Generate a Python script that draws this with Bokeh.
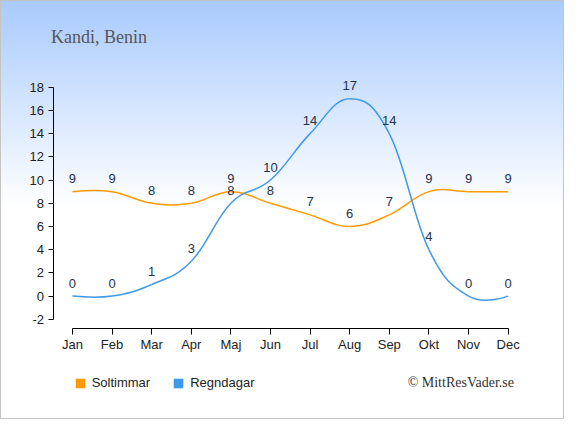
from bokeh.plotting import figure
from bokeh.models import (LinearAxis, FixedTicker, Label, Legend, LegendItem,
                          ColumnDataSource)
from bokeh.embed import file_html
from bokeh.resources import INLINE
from bokeh.core.properties import value

# ---- data ----
months = ["Jan", "Feb", "Mar", "Apr", "Maj", "Jun", "Jul", "Aug", "Sep", "Okt", "Nov", "Dec"]
soltimmar = [9, 9, 8, 8, 9, 8, 7, 6, 7, 9, 9, 9]
regndagar = [0, 0, 1, 3, 8, 10, 14, 17, 14, 4, 0, 0]
y_ticks = [-2, 0, 2, 4, 6, 8, 10, 12, 14, 16, 18]
title_text = "Kandi, Benin"
credit_text = "\u00a9 MittResVader.se"
series_names = ["Soltimmar", "Regndagar"]
series_colors = ["#ff9a00", "#3f99ea"]

# ---- geometry (reference pixels scaled into the figure) ----
W, H = 564, 419
SX, SY = W / 580.0, H / 435.0


def fx(px):
    return px * SX


def fy(py):
    return py * SY


jan_px, dec_px = fx(74), fx(522)
dx_px = (dec_px - jan_px) / 11.0
top18_px, bot2_px = fy(90), fy(331)
dy_px = (bot2_px - top18_px) / 20.0
zero_px = top18_px + 18 * dy_px

x_start = -jan_px / dx_px
x_end = (W - jan_px) / dx_px
y_end = zero_px / dy_px
y_start = -(H - zero_px) / dy_px

p = figure(width=W, height=H, output_backend="svg", toolbar_location=None,
           x_range=(x_start, x_end), y_range=(y_start, y_end),
           x_axis_location=None, y_axis_location=None,
           min_border=0, min_border_left=0, min_border_right=0,
           min_border_top=0, min_border_bottom=0)
p.outline_line_color = None
p.background_fill_alpha = 0
p.border_fill_alpha = 0
p.grid.visible = False
p.styles = {
    "background": "linear-gradient(to bottom, #a8cafd 0px, #ffffff %dpx, #ffffff 100%%)" % int(fy(215)),
    "box-shadow": "inset 0 0 0 1px #c4c4c4",
}

font = "Liberation Sans"
xs = list(range(len(months)))

# axes
yax = LinearAxis(fixed_location=(fx(54) - jan_px) / dx_px, bounds=(-2, 18),
                 ticker=FixedTicker(ticks=y_ticks),
                 major_label_overrides={t: str(t) for t in y_ticks})
yax.axis_line_color = "#000000"
yax.major_tick_line_color = "#000000"
yax.major_tick_out = 5
yax.major_tick_in = 0
yax.minor_tick_line_color = None
yax.major_label_standoff = 4
yax.major_label_text_font = font
yax.major_label_text_font_size = "13px"
yax.major_label_text_color = "#222222"
p.add_layout(yax, "left")

xax = LinearAxis(fixed_location=-(fy(341) - zero_px) / dy_px, bounds=(0, len(months) - 1),
                 ticker=FixedTicker(ticks=xs),
                 major_label_overrides={i: m for i, m in enumerate(months)})
xax.axis_line_color = "#000000"
xax.major_tick_line_color = "#000000"
xax.major_tick_out = 6
xax.major_tick_in = 0
xax.minor_tick_line_color = None
xax.major_label_standoff = 2
xax.major_label_text_font = font
xax.major_label_text_font_size = "13px"
xax.major_label_text_color = "#222222"
p.add_layout(xax, "below")


def spline_segments(xv, yv, smoothing=1.5):
    n = len(xv)
    denom = smoothing + 1
    lc = [(xv[i], yv[i]) for i in range(n)]
    rc = [(xv[i], yv[i]) for i in range(n)]
    for i in range(1, n - 1):
        lx = (smoothing * xv[i] + xv[i - 1]) / denom
        ly = (smoothing * yv[i] + yv[i - 1]) / denom
        rx = (smoothing * xv[i] + xv[i + 1]) / denom
        ry = (smoothing * yv[i] + yv[i + 1]) / denom
        corr = ((ry - ly) * (rx - xv[i])) / (rx - lx) + yv[i] - ry
        lc[i] = (lx, ly + corr)
        rc[i] = (rx, ry + corr)
    d = dict(x0=[], y0=[], x1=[], y1=[], cx0=[], cy0=[], cx1=[], cy1=[])
    for i in range(1, n):
        d["x0"].append(xv[i - 1]); d["y0"].append(yv[i - 1])
        d["x1"].append(xv[i]); d["y1"].append(yv[i])
        d["cx0"].append(rc[i - 1][0]); d["cy0"].append(rc[i - 1][1])
        d["cx1"].append(lc[i][0]); d["cy1"].append(lc[i][1])
    return ColumnDataSource(d)


nan = float("nan")
legend_items = []
for name, vals, col in zip(series_names, [soltimmar, regndagar], series_colors):
    src = spline_segments(xs, vals)
    p.bezier(x0="x0", y0="y0", x1="x1", y1="y1", cx0="cx0", cy0="cy0",
             cx1="cx1", cy1="cy1", source=src, line_color=col, line_width=1.5)
    proxy = p.quad(left=[nan], right=[nan], top=[nan], bottom=[nan],
                   fill_color=col, line_color=None)
    legend_items.append(LegendItem(label=name, renderers=[proxy]))

for vals in [soltimmar, regndagar]:
    p.text(x=xs, y=vals, text=[str(v) for v in vals], text_align="center",
           text_baseline="middle", y_offset=-13, text_font=value(font),
           text_font_size="13px", text_color="#25314b")

leg_h = 12
legend = Legend(items=legend_items, orientation="horizontal",
                location=(fx(77) - 1.2, H - fy(399) - leg_h / 2.0),
                glyph_width=12, glyph_height=12, label_standoff=6, spacing=22,
                padding=0, margin=0, border_line_alpha=0, background_fill_alpha=0,
                label_text_font=font, label_text_font_size="13px",
                label_text_color="#222222", label_height=leg_h)
p.add_layout(legend, "center")

p.add_layout(Label(x=fx(52), y=H - fy(38), x_units="screen", y_units="screen", text=title_text,
                   text_font="Liberation Serif", text_font_size="18px",
                   text_color="#555555", text_baseline="alphabetic"))
p.add_layout(Label(x=fx(528), y=H - fy(397), x_units="screen", y_units="screen", text=credit_text,
                   text_font="Liberation Serif", text_font_size="14px",
                   text_color="#333333", text_baseline="middle", text_align="right"))

open("out.html", "w").write(file_html(p, INLINE))
